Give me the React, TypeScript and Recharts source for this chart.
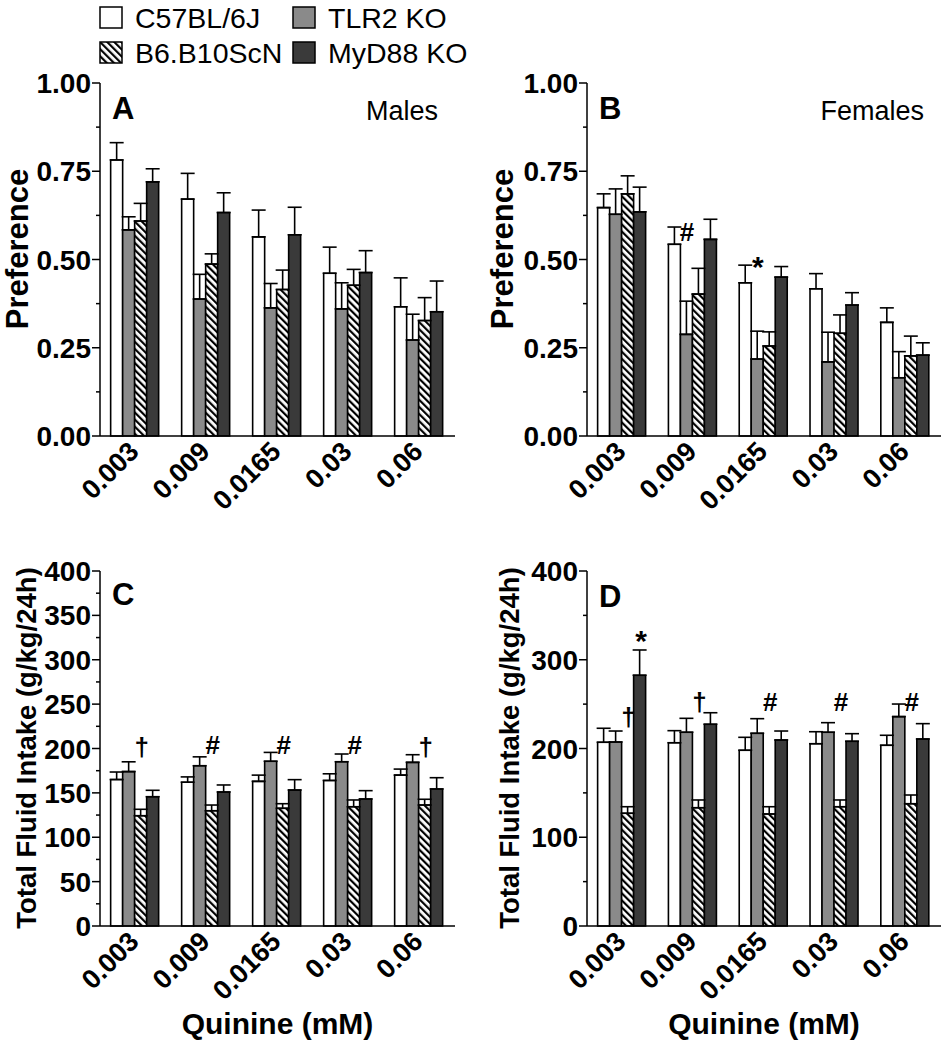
import React from "react";
import { BarChart, Bar, XAxis, YAxis, ErrorBar, ReferenceDot } from "recharts";

const FONT = "'Liberation Sans', Arial, sans-serif";

// x categories: quinine concentration (mM)
const categories = ["0.003", "0.009", "0.0165", "0.03", "0.06"];

const seriesKeys = ["c57", "tlr2", "b10", "myd88"];
const seriesNames = ["C57BL/6J", "TLR2 KO", "B6.B10ScN", "MyD88 KO"];

// A - males, preference
const malePrefC57 = [0.782, 0.671, 0.564, 0.461, 0.366];
const malePrefC57Sem = [0.049, 0.073, 0.076, 0.074, 0.082];
const malePrefTlr2 = [0.584, 0.388, 0.363, 0.36, 0.272];
const malePrefTlr2Sem = [0.037, 0.07, 0.069, 0.074, 0.073];
const malePrefB10 = [0.609, 0.487, 0.415, 0.427, 0.327];
const malePrefB10Sem = [0.05, 0.029, 0.055, 0.045, 0.065];
const malePrefMyd88 = [0.72, 0.633, 0.57, 0.463, 0.352];
const malePrefMyd88Sem = [0.037, 0.056, 0.078, 0.062, 0.087];

// B - females, preference
const femPrefC57 = [0.647, 0.543, 0.434, 0.417, 0.322];
const femPrefC57Sem = [0.039, 0.049, 0.05, 0.043, 0.041];
const femPrefTlr2 = [0.628, 0.288, 0.218, 0.21, 0.165];
const femPrefTlr2Sem = [0.072, 0.094, 0.079, 0.084, 0.074];
const femPrefB10 = [0.686, 0.402, 0.255, 0.291, 0.227];
const femPrefB10Sem = [0.051, 0.073, 0.04, 0.052, 0.056];
const femPrefMyd88 = [0.635, 0.557, 0.45, 0.371, 0.229];
const femPrefMyd88Sem = [0.07, 0.057, 0.03, 0.035, 0.035];

// C - males, total fluid intake
const maleIntC57 = [165, 162, 163, 164, 170];
const maleIntC57Sem = [8.5, 6, 7, 7.5, 6.8];
const maleIntTlr2 = [174, 180.6, 185.6, 185.1, 184.4];
const maleIntTlr2Sem = [11, 10, 10, 8.7, 8.6];
const maleIntB10 = [124.3, 129.9, 132.6, 134.4, 136.3];
const maleIntB10Sem = [7.2, 6.4, 5.2, 7.6, 6.5];
const maleIntMyd88 = [145.7, 151, 153.2, 143.1, 154.4];
const maleIntMyd88Sem = [7.2, 7.9, 11.7, 9.4, 12.7];

// D - females, total fluid intake
const femIntC57 = [207, 206.5, 198, 205.4, 203.6];
const femIntC57Sem = [15.8, 13.6, 14.6, 13.5, 11.3];
const femIntTlr2 = [207.3, 218.3, 217.1, 218.3, 235.9];
const femIntTlr2Sem = [12.4, 15.7, 16.5, 10.8, 14.2];
const femIntB10 = [127, 133.3, 126.2, 134.4, 137.8];
const femIntB10Sem = [7.4, 8.7, 8.2, 7.6, 9.8];
const femIntMyd88 = [282.5, 227.3, 209.6, 208.1, 210.7];
const femIntMyd88Sem = [28.5, 13, 10.1, 8.6, 17.3];

// significance symbols (text, height on y scale, series they sit over)
const femPrefMarks = ["", "#", "*", "", ""];
const femPrefMarkY = [0, 0.578, 0.5, 0, 0];
const maleIntMarks = ["\u2020", "#", "#", "#", "\u2020"];
const maleIntMarkY = [202, 204, 204, 204, 202];
const femIntMarks = ["\u2020", "\u2020", "#", "#", "#"];
const femIntMarkY = [236, 252, 252, 252, 252];
const femIntStar = ["*", "", "", "", ""];
const femIntStarY = [329, 0, 0, 0, 0];

// axis ticks
const prefTicks = [0, 0.125, 0.25, 0.375, 0.5, 0.625, 0.75, 0.875, 1];
const prefMajor = [0, 0.25, 0.5, 0.75, 1];
const maleIntTicks = [0, 25, 50, 75, 100, 125, 150, 175, 200, 225, 250, 275, 300, 325, 350, 375, 400];
const maleIntMajor = [0, 50, 100, 150, 200, 250, 300, 350, 400];
const femIntTicks = [0, 50, 100, 150, 200, 250, 300, 350, 400];
const femIntMajor = [0, 100, 200, 300, 400];

function buildRows(means: number[][], sems: number[][]) {
  return categories.map((cat, i) => {
    const row: any = { cat };
    seriesKeys.forEach((k, s) => {
      row[k] = means[s][i];
      row[k + "Err"] = [0, sems[s][i]];
    });
    return row;
  });
}

const panelA = buildRows(
  [malePrefC57, malePrefTlr2, malePrefB10, malePrefMyd88],
  [malePrefC57Sem, malePrefTlr2Sem, malePrefB10Sem, malePrefMyd88Sem]
);
const panelB = buildRows(
  [femPrefC57, femPrefTlr2, femPrefB10, femPrefMyd88],
  [femPrefC57Sem, femPrefTlr2Sem, femPrefB10Sem, femPrefMyd88Sem]
);
const panelC = buildRows(
  [maleIntC57, maleIntTlr2, maleIntB10, maleIntMyd88],
  [maleIntC57Sem, maleIntTlr2Sem, maleIntB10Sem, maleIntMyd88Sem]
);
const panelD = buildRows(
  [femIntC57, femIntTlr2, femIntB10, femIntMyd88],
  [femIntC57Sem, femIntTlr2Sem, femIntB10Sem, femIntMyd88Sem]
);

const GRAY = "#8a8a8a";
const DARK = "#3a3a3a";

function HatchDef({ id }: { id: string }) {
  return (
    <pattern id={id} patternUnits="userSpaceOnUse" width={5} height={5} patternTransform="rotate(-45)">
      <rect x={0} y={0} width={5} height={5} fill="#fff" />
      <rect x={0} y={0} width={2.2} height={5} fill="#000" />
    </pattern>
  );
}

interface MarkSet { texts: string[]; ys: number[]; series: number }

interface PanelProps {
  id: string;
  data: any[];
  left: number;
  top: number;
  width: number;
  height: number;
  marginTop: number;
  marginRight: number;
  yAxisWidth: number;
  xAxisHeight: number;
  domain: [number, number];
  ticks: number[];
  major: number[];
  fmt: (v: number) => string;
  letter: string;
  letterY: number;
  sex?: string;
  yTitle: string;
  yTitleX: number;
  yTitleY: number;
  yTitleSize: number;
  xTitle?: boolean;
  marks: MarkSet[];
}

function Panel(p: PanelProps) {
  const plotLeft = p.yAxisWidth;
  const plotRight = p.width - p.marginRight;
  const plotW = plotRight - plotLeft;
  const plotBottom = p.height - p.xAxisHeight;
  const barW = ((plotW / categories.length) * 0.7) / 4;
  const fills = ["#fff", GRAY, `url(#hatch-${p.id})`, DARK];

  const yTick = (t: any) => {
    const isMajor = p.major.includes(t.payload.value);
    return (
      <g>
        <line x1={t.x} x2={t.x - (isMajor ? 8 : 4)} y1={t.y} y2={t.y} stroke="#000" strokeWidth={1.5} />
        {isMajor && (
          <text x={t.x - 9} y={t.y + 10} textAnchor="end" fontSize={28} fontWeight="bold" fontFamily={FONT} fill="#000">
            {p.fmt(t.payload.value)}
          </text>
        )}
      </g>
    );
  };

  const xTick = (t: any) => (
    <text
      x={t.x + 5}
      y={t.y + 17}
      textAnchor="end"
      fontSize={27}
      fontWeight="bold"
      fontFamily={FONT}
      fill="#000"
      transform={`rotate(-45 ${t.x + 5} ${t.y + 17})`}
    >
      {t.payload.value}
    </text>
  );

  return (
    <div style={{ position: "absolute", left: p.left, top: p.top, width: p.width, height: p.height }}>
      <BarChart
        width={p.width}
        height={p.height}
        data={p.data}
        margin={{ top: p.marginTop, right: p.marginRight, left: 0, bottom: 0 }}
        barCategoryGap="15%"
        barGap={0}
      >
        <defs>
          <HatchDef id={`hatch-${p.id}`} />
        </defs>
        <XAxis
          dataKey="cat"
          height={p.xAxisHeight}
          interval={0}
          tickLine={false}
          tickSize={0}
          tickMargin={0}
          tick={xTick}
          axisLine={{ stroke: "#000", strokeWidth: 1.5 }}
        />
        <XAxis
          xAxisId="top"
          dataKey="cat"
          orientation="top"
          height={0}
          tick={false}
          tickLine={false}
          axisLine={{ stroke: "#000", strokeWidth: 1.5 }}
        />
        <YAxis
          width={p.yAxisWidth}
          domain={p.domain}
          ticks={p.ticks}
          interval={0}
          tickLine={false}
          tickSize={0}
          tickMargin={0}
          tick={yTick}
          axisLine={{ stroke: "#000", strokeWidth: 1.5 }}
        />
        <YAxis
          yAxisId="right"
          orientation="right"
          width={0}
          domain={p.domain}
          tick={false}
          tickLine={false}
          axisLine={{ stroke: "#000", strokeWidth: 1.5 }}
        />
        {seriesKeys.map((k, s) => (
          <Bar key={k} dataKey={k} name={seriesNames[s]} fill={fills[s]} stroke="#000" strokeWidth={1.6} isAnimationActive={false}>
            <ErrorBar dataKey={k + "Err"} direction="y" width={7} stroke="#000" strokeWidth={1.6} isAnimationActive={false} />
          </Bar>
        ))}
        {p.marks.flatMap((m, mi) =>
          m.texts.map((txt, i) =>
            txt ? (
              <ReferenceDot
                key={`m${mi}-${i}`}
                x={categories[i]}
                y={m.ys[i]}
                r={0}
                ifOverflow="visible"
                shape={(d: any) => (
                  <text
                    x={d.cx + (m.series - 1.5) * barW}
                    y={d.cy + (txt === "*" ? 17 : 9)}
                    textAnchor="middle"
                    fontSize={txt === "*" ? 30 : 26}
                    fontWeight="bold"
                    fontFamily={FONT}
                    fill="#000"
                  >
                    {txt}
                  </text>
                )}
              />
            ) : null
          )
        )}
        <text x={plotLeft + 12} y={p.letterY} fontSize={31} fontWeight="bold" fontFamily={FONT} fill="#000">
          {p.letter}
        </text>
        {p.sex && (
          <text x={plotRight - 17} y={p.letterY + 1} textAnchor="end" fontSize={27} fontFamily={FONT} fill="#000">
            {p.sex}
          </text>
        )}
        <text
          x={p.yTitleX}
          y={p.yTitleY}
          textAnchor="middle"
          fontSize={p.yTitleSize}
          fontWeight="bold"
          fontFamily={FONT}
          fill="#000"
          transform={`rotate(-90 ${p.yTitleX} ${p.yTitleY})`}
        >
          {p.yTitle}
        </text>
        {p.xTitle && (
          <text
            x={(plotLeft + plotRight) / 2}
            y={plotBottom + 108}
            textAnchor="middle"
            fontSize={30}
            fontWeight="bold"
            fontFamily={FONT}
            fill="#000"
          >
            Quinine (mM)
          </text>
        )}
      </BarChart>
    </div>
  );
}

function LegendBox() {
  const items = [
    { x: 100, y: 7, fill: "#fff", label: seriesNames[0] },
    { x: 293, y: 7, fill: GRAY, label: seriesNames[1] },
    { x: 100, y: 42, fill: "url(#hatch-legend)", label: seriesNames[2] },
    { x: 293, y: 42, fill: DARK, label: seriesNames[3] },
  ];
  return (
    <svg width={944} height={70} style={{ position: "absolute", left: 0, top: 0 }}>
      <defs>
        <HatchDef id="hatch-legend" />
      </defs>
      {items.map((it) => (
        <g key={it.label}>
          <rect x={it.x} y={it.y} width={22} height={21} fill={it.fill} stroke="#000" strokeWidth={1.5} />
          <text x={it.x + 35} y={it.y + 21} fontSize={28.5} fontFamily={FONT} fill="#000">
            {it.label}
          </text>
        </g>
      ))}
    </svg>
  );
}

export default function App() {
  const fmt2 = (v: number) => v.toFixed(2);
  const fmt0 = (v: number) => String(v);
  return (
    <div style={{ position: "absolute", left: 0, top: 0, width: 944, height: 1050, background: "#fff", fontFamily: FONT }}>
      <Panel
        id="A"
        data={panelA}
        left={0}
        top={60}
        width={470}
        height={480}
        marginTop={23}
        marginRight={15}
        yAxisWidth={100}
        xAxisHeight={104}
        domain={[0, 1]}
        ticks={prefTicks}
        major={prefMajor}
        fmt={fmt2}
        letter="A"
        letterY={59}
        sex="Males"
        yTitle="Preference"
        yTitleX={28}
        yTitleY={189}
        yTitleSize={31}
        marks={[]}
      />
      <Panel
        id="B"
        data={panelB}
        left={470}
        top={60}
        width={474}
        height={480}
        marginTop={23}
        marginRight={3}
        yAxisWidth={117}
        xAxisHeight={104}
        domain={[0, 1]}
        ticks={prefTicks}
        major={prefMajor}
        fmt={fmt2}
        letter="B"
        letterY={59}
        sex="Females"
        yTitle="Preference"
        yTitleX={43}
        yTitleY={189}
        yTitleSize={31}
        marks={[{ texts: femPrefMarks, ys: femPrefMarkY, series: 1 }]}
      />
      <Panel
        id="C"
        data={panelC}
        left={0}
        top={545}
        width={470}
        height={505}
        marginTop={26}
        marginRight={15}
        yAxisWidth={100}
        xAxisHeight={124}
        domain={[0, 400]}
        ticks={maleIntTicks}
        major={maleIntMajor}
        fmt={fmt0}
        letter="C"
        letterY={60}
        yTitle="Total Fluid Intake (g/kg/24h)"
        yTitleX={36}
        yTitleY={203}
        yTitleSize={27.5}
        xTitle
        marks={[{ texts: maleIntMarks, ys: maleIntMarkY, series: 2 }]}
      />
      <Panel
        id="D"
        data={panelD}
        left={470}
        top={545}
        width={474}
        height={505}
        marginTop={26}
        marginRight={3}
        yAxisWidth={117}
        xAxisHeight={124}
        domain={[0, 400]}
        ticks={femIntTicks}
        major={femIntMajor}
        fmt={fmt0}
        letter="D"
        letterY={62}
        yTitle="Total Fluid Intake (g/kg/24h)"
        yTitleX={49}
        yTitleY={203}
        yTitleSize={27.5}
        xTitle
        marks={[
          { texts: femIntMarks, ys: femIntMarkY, series: 2 },
          { texts: femIntStar, ys: femIntStarY, series: 3 },
        ]}
      />
      <LegendBox />
    </div>
  );
}
